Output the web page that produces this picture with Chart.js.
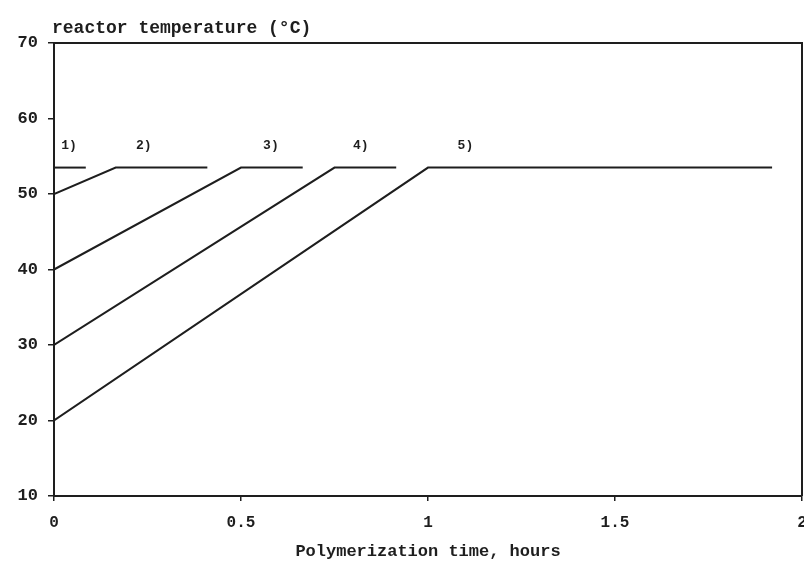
<!DOCTYPE html>
<html>
<head>
<meta charset="utf-8">
<script src="https://cdn.jsdelivr.net/npm/chart.js@4"></script>
<style>
html,body{margin:0;padding:0;background:#fff;}
#wrap{width:804px;height:562px;position:relative;}
</style>
</head>
<body>
<div id="wrap"><canvas id="c" width="804" height="562"></canvas></div>
<script>
// Data
const series1X = [0, 0.085];
const series1Y = [53.5, 53.5];
const series2X = [0, 0.165, 0.41];
const series2Y = [50, 53.5, 53.5];
const series3X = [0, 0.5, 0.665];
const series3Y = [40, 53.5, 53.5];
const series4X = [0, 0.75, 0.915];
const series4Y = [30, 53.5, 53.5];
const series5X = [0, 1.0, 1.92];
const series5Y = [20, 53.5, 53.5];
const seriesNames = ['1)', '2)', '3)', '4)', '5)'];
const nameX = [0.04, 0.24, 0.58, 0.82, 1.10];
const nameY = [56.4, 56.4, 56.4, 56.4, 56.4];
const xTicks = [0, 0.5, 1, 1.5, 2];
const yTicks = [10, 20, 30, 40, 50, 60, 70];
const yTitle = 'reactor temperature (°C)';
const xTitle = 'Polymerization time, hours';

const allX = [series1X, series2X, series3X, series4X, series5X];
const allY = [series1Y, series2Y, series3Y, series4Y, series5Y];
const ink = '#1e1e1e';
const FONT = '"Liberation Mono", "DejaVu Sans Mono", monospace';

const datasets = allX.map((xs, i) => ({
  label: seriesNames[i],
  data: xs.map((x, j) => ({x: x, y: allY[i][j]})),
  borderColor: ink,
  borderWidth: 2,
  pointRadius: 0,
  fill: false,
  tension: 0
}));

const framePlugin = {
  id: 'frame',
  afterDraw(chart) {
    const {ctx, chartArea: a, scales} = chart;
    ctx.save();
    ctx.strokeStyle = ink;
    ctx.lineWidth = 2;
    ctx.beginPath();
    ctx.moveTo(a.left, a.top);
    ctx.lineTo(a.right, a.top);
    ctx.lineTo(a.right, a.bottom);
    ctx.stroke();
    ctx.fillStyle = ink;
    ctx.font = 'bold 18px ' + FONT;
    ctx.textAlign = 'left';
    ctx.textBaseline = 'alphabetic';
    ctx.fillText(yTitle, 52, 33);
    ctx.font = 'bold 13px ' + FONT;
    ctx.textAlign = 'center';
    ctx.textBaseline = 'middle';
    seriesNames.forEach((n, i) => {
      ctx.fillText(n, scales.x.getPixelForValue(nameX[i]), scales.y.getPixelForValue(nameY[i]));
    });
    ctx.restore();
  }
};

new Chart(document.getElementById('c'), {
  type: 'line',
  data: {datasets},
  options: {
    responsive: false,
    animation: false,
    layout: {padding: {top: 43, right: 2, left: 0, bottom: 0}},
    plugins: {legend: {display: false}, tooltip: {enabled: false}},
    scales: {
      x: {
        type: 'linear', min: 0, max: 2,
        afterBuildTicks(s) { s.ticks = xTicks.map(v => ({value: v})); },
        afterFit(s) { s.height = 66; s.paddingRight = 0; s.paddingLeft = 0; },
        grid: {display: true, drawOnChartArea: false, drawTicks: true, tickLength: 5, color: ink, lineWidth: 1.5},
        border: {display: true, color: ink, width: 2},
        ticks: {color: ink, font: {family: FONT, size: 16, weight: 'bold'}, padding: 12,
          callback: v => String(v), maxRotation: 0},
        title: {display: true, text: xTitle, color: ink, font: {family: FONT, size: 17, weight: 'bold'}, padding: {top: 2, bottom: 0}}
      },
      y: {
        type: 'linear', min: 10, max: 70,
        afterBuildTicks(s) { s.ticks = yTicks.map(v => ({value: v})); },
        afterFit(s) { s.width = 54; },
        grid: {display: true, drawOnChartArea: false, drawTicks: true, tickLength: 6, color: ink, lineWidth: 1.5},
        border: {display: true, color: ink, width: 2},
        ticks: {color: ink, font: {family: FONT, size: 17, weight: 'bold'}, padding: 10}
      }
    }
  },
  plugins: [framePlugin]
});
</script>
</body>
</html>
